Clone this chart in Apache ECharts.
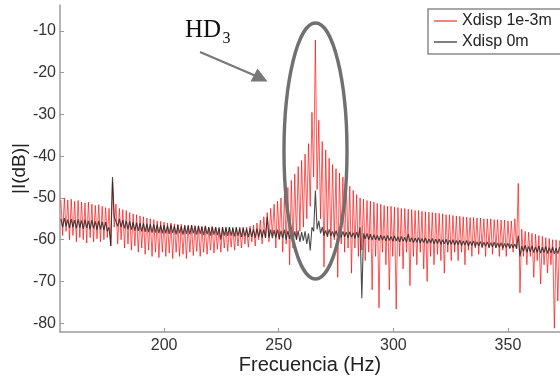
<!DOCTYPE html>
<html>
<head>
<meta charset="utf-8">
<script src="https://cdn.jsdelivr.net/npm/echarts@6/dist/echarts.min.js"></script>
<style>html,body{margin:0;padding:0;background:#fff;}#c{width:560px;height:381px;}</style>
</head>
<body>
<div id="c"></div>
<script>
// Frequency grid of the spectrum samples (Hz): peaks at peakStart + k*period, troughs half a period later
const peakStart = 155;
const period = 1.5;

// "Xdisp 1e-3m" (red) – local maxima and minima of the comb, dB
const redPeaks = [
 -50.5,-50,-50.5,-50.3,-50.8,-50.6,-51,-51.2,-51,-51.5,-51.8,-51.6,-52,-52.3,-52.5,-46,-51.5,-52.5,-52.8,-53,
 -53.5,-53.8,-54,-54.3,-54.5,-54.8,-55,-55.2,-55.5,-55.6,-55.8,-56,-56,-56.2,-56.3,-56.3,-56.5,-56.5,-56.6,-56.6,
 -56.8,-56.8,-56.8,-57,-57,-57,-57,-57,-57,-57,-57,-57,-57,-57,-57,-56.8,-56.5,-56,-55.3,-54.5,
 -53.5,-52.5,-51.5,-50.8,-50,-49,-47.5,-45.8,-44.3,-42.5,-41,-39.5,-37,-29.5,-12.2,-31.4,-36.5,-38.5,-40.5,-42,
 -43,-44,-45,-46,-47.2,-48.2,-49.2,-50,-50.3,-50.6,-50.8,-51,-51.3,-51.5,-51.8,-52,-52,-52.2,-52.3,-52.5,
 -52.5,-52.7,-52.8,-53,-53,-53.2,-53.3,-53.4,-53.5,-53.6,-53.7,-53.8,-54,-54,-54.2,-54.3,-54.4,-54.5,-54.6,-54.7,
 -54.7,-54.8,-54.8,-55,-55,-55,-55.2,-55.2,-55.3,-55.3,-55.5,-55.5,-55,-46.5,-57.5,-58,-58.2,-58.5,-58.7,-59,
 -59.2,-59.5,-59.7,-60,-60,-60.2
];
const redTroughs = [
 -59,-58,-60,-59,-60.5,-59.5,-60,-60.8,-59.5,-60.5,-59.8,-60.5,-60,-59.5,-61.5,-57,-61,-60,-62,-61,
 -62.5,-61.5,-63,-62,-63.5,-62.5,-64,-63,-64.3,-63,-64,-63.2,-64.5,-63,-64,-63.5,-64.5,-63,-63.8,-62.8,
 -64,-63,-63.5,-62.5,-63.2,-62.3,-63,-62,-62.8,-61.8,-62.5,-61.5,-62,-61,-61.8,-60.5,-61.5,-60,-61,-59.5,
 -60.5,-59,-62,-60,-63,-61,-66,-62,-60,-58,-57,-55,-52,-45,-48,-55,-66.5,-59,-62,-60,
 -69,-61,-63,-62,-68,-62,-64,-62.5,-65,-63,-72,-64,-76.3,-63,-66,-72,-64,-76.6,-64,-67,
 -63,-71,-64,-66,-63,-67,-70,-64,-66,-63.5,-65,-68,-63,-65,-63,-65,-63,-66,-62.5,-64,
 -62,-63.5,-62,-64,-62,-63.5,-62,-64,-62.5,-64,-62,-63,-62,-72.7,-64,-66,-64,-69,-65,-70.6,
 -66,-68,-66,-81.2,-74.7
];

// "Xdisp 0m" (black) – local maxima and minima, dB
const blackPeaks = [
 -55,-54.8,-55.2,-55,-55.3,-55.1,-55.4,-55.2,-55.5,-55.3,-55.6,-55.5,-55.7,-55.8,-57,-45,-54.5,-55,-55.3,-55.5,
 -55.6,-55.8,-55.9,-56,-56.1,-56.2,-56.3,-56.3,-56.4,-56.5,-56.5,-56.6,-56.4,-56.7,-56.5,-56.8,-56.6,-56.7,-56.5,-56.8,
 -56.6,-56.9,-56.7,-57,-56.8,-57,-57.2,-57,-57.1,-57,-57.2,-57.1,-57.3,-57.2,-57.4,-57.3,-57.5,-57.4,-57.5,-57.6,
 -54.5,-57.6,-57.7,-57.6,-57.8,-57.6,-57.9,-57.7,-58,-57.8,-58.2,-58,-58.5,-57,-48.2,-55.5,-57,-57.8,-57.5,-58,
 -57.8,-58.1,-58,-58.2,-58.1,-58.3,-58.2,-57,-58.5,-58.5,-58.7,-58.8,-59,-58.9,-59.1,-59,-59.2,-59.1,-59.3,-59.2,
 -59.4,-58.6,-59.5,-59.6,-59.5,-59.7,-59.6,-59.8,-59.7,-59.9,-59.8,-60,-59.9,-60.1,-60,-60.2,-60.1,-60.3,-60.2,-60.4,
 -60.3,-60.5,-60.4,-60.6,-60.5,-60.7,-60.6,-60.8,-60.7,-60.9,-60.8,-61,-61,-59,-61.5,-61.3,-61.6,-61.4,-61.7,-61.5,
 -61.8,-61.6,-61.9,-61.7,-62,-61.8
];
const blackTroughs = [
 -57,-56.8,-57.2,-57,-57.3,-57.1,-57.4,-57.2,-57.5,-57.3,-57.6,-57.5,-57.7,-58,-61.5,-54.5,-56.8,-57,-57.3,-57.5,
 -57.6,-57.8,-57.9,-58,-58.1,-58.2,-58.3,-58.3,-58.4,-58.5,-58.5,-58.6,-58.4,-58.7,-58.5,-58.8,-58.6,-58.7,-58.5,-58.8,
 -58.6,-58.9,-58.7,-59,-58.8,-58.9,-60,-59,-59.1,-59,-59.2,-59.1,-59.3,-59.2,-59.4,-59.3,-59.5,-59.4,-59.5,-59.6,
 -59.5,-59.6,-59.5,-59.8,-59.6,-60,-59.8,-60.2,-60,-60.5,-60.2,-61,-62.6,-58,-57.5,-58.5,-59,-59.3,-59.1,-59.4,
 -59.2,-59.5,-59.3,-59.6,-59.4,-59.7,-59.5,-74,-59.8,-60,-60.1,-60,-60.2,-60.1,-60.3,-60.2,-60.4,-60.3,-60.5,-60.4,
 -60.6,-60.5,-60.7,-60.6,-60.8,-60.7,-60.9,-60.8,-61,-60.9,-61.1,-61,-61.2,-61.1,-61.3,-61.2,-61.4,-61.3,-61.5,-61.4,
 -61.6,-61.5,-61.7,-61.6,-61.8,-61.7,-61.9,-61.8,-62,-61.9,-62.1,-62,-62.2,-64,-62.8,-63,-62.9,-63.1,-63,-63.2,
 -63.1,-63.3,-63.2,-63.4,-63.3
];

const xTicks = [200, 250, 300, 350];
const yTicks = [-80, -70, -60, -50, -40, -30, -20, -10];
const seriesNames = ['Xdisp 1e-3m', 'Xdisp 0m'];

function build(peaks, troughs) {
  const out = [];
  for (let k = 0; k < peaks.length; k++) {
    out.push([peakStart + k * period, peaks[k]]);
    if (k < troughs.length) out.push([peakStart + k * period + period / 2, troughs[k]]);
  }
  return out;
}

const chart = echarts.init(document.getElementById('c'), null, {renderer: 'canvas'});
const font = '"Liberation Sans", Arial, Helvetica, sans-serif';
const axisCommon = {
  axisLine: {show: true, lineStyle: {color: '#9a9a9a', width: 1.5}},
  axisTick: {show: true, inside: true, length: 4, lineStyle: {color: '#9a9a9a', width: 1}},
  splitLine: {show: false},
  axisLabel: {color: '#333', fontSize: 16, fontFamily: font}
};
chart.setOption({
  animation: false,
  backgroundColor: '#fff',
  grid: {left: 60, top: 5, right: 0, bottom: 49, containLabel: false, outerBoundsMode: 'none'},
  xAxis: Object.assign({}, axisCommon, {
    type: 'value', min: 154.6, max: 372.7,
    name: 'Frecuencia (Hz)', nameLocation: 'middle', nameGap: 23, nameMoveOverlap: false,
    nameTextStyle: {color: '#222', fontSize: 20, fontFamily: font},
    axisTick: Object.assign({}, axisCommon.axisTick, {customValues: xTicks}),
    axisLabel: Object.assign({}, axisCommon.axisLabel, {customValues: xTicks, margin: 6})
  }),
  yAxis: Object.assign({}, axisCommon, {
    type: 'value', min: -82.1, max: -3.8,
    name: '|I(dB)|', nameLocation: 'middle', nameGap: 31, nameRotate: 90, nameMoveOverlap: false,
    nameTextStyle: {color: '#222', fontSize: 19, fontFamily: font},
    axisTick: Object.assign({}, axisCommon.axisTick, {customValues: yTicks}),
    axisLabel: Object.assign({}, axisCommon.axisLabel, {customValues: yTicks, margin: 4})
  }),
  legend: {
    orient: 'vertical', left: 428, top: 9,
    padding: [4, 12, 4, 6], itemGap: 5, itemWidth: 23, itemHeight: 2, icon: 'rect',
    borderColor: '#8a8a8a', borderWidth: 1.5, backgroundColor: '#fff',
    textStyle: {color: '#222', fontSize: 16, fontFamily: font},
    data: [
      {name: seriesNames[0], itemStyle: {color: '#ff8080'}},
      {name: seriesNames[1], itemStyle: {color: '#808080'}}
    ]
  },
  series: [
    {
      name: seriesNames[0], type: 'line', data: build(redPeaks, redTroughs),
      showSymbol: false, symbol: 'none', sampling: 'none', z: 2,
      lineStyle: {color: 'rgba(255,0,0,0.65)', width: 1},
      itemStyle: {color: '#ff8080'}
    },
    {
      name: seriesNames[1], type: 'line', data: build(blackPeaks, blackTroughs),
      showSymbol: false, symbol: 'none', sampling: 'none', z: 3,
      lineStyle: {color: 'rgba(30,30,30,0.8)', width: 1.1},
      itemStyle: {color: '#808080'}
    }
  ],
  graphic: [
    {type: 'ellipse', shape: {cx: 315.5, cy: 151, rx: 31.5, ry: 128}, z: 100,
     style: {fill: 'none', stroke: '#707070', lineWidth: 3.4}},
    {type: 'line', shape: {x1: 200, y1: 52, x2: 256, y2: 76}, z: 100,
     style: {stroke: '#777', lineWidth: 2}},
    {type: 'polygon', shape: {points: [[267.5, 81.5], [250.5, 81.5], [257.5, 68.5]]}, z: 100,
     style: {fill: '#777'}},
    {type: 'text', x: 185, y: 43, z: 100,
     style: {text: 'HD', font: '25px "Liberation Serif", "Times New Roman", serif', fill: '#111', verticalAlign: 'bottom'}},
    {type: 'text', x: 222.5, y: 47, z: 100,
     style: {text: '3', font: '16px "Liberation Serif", "Times New Roman", serif', fill: '#111', verticalAlign: 'bottom'}}
  ]
});
</script>
</body>
</html>
